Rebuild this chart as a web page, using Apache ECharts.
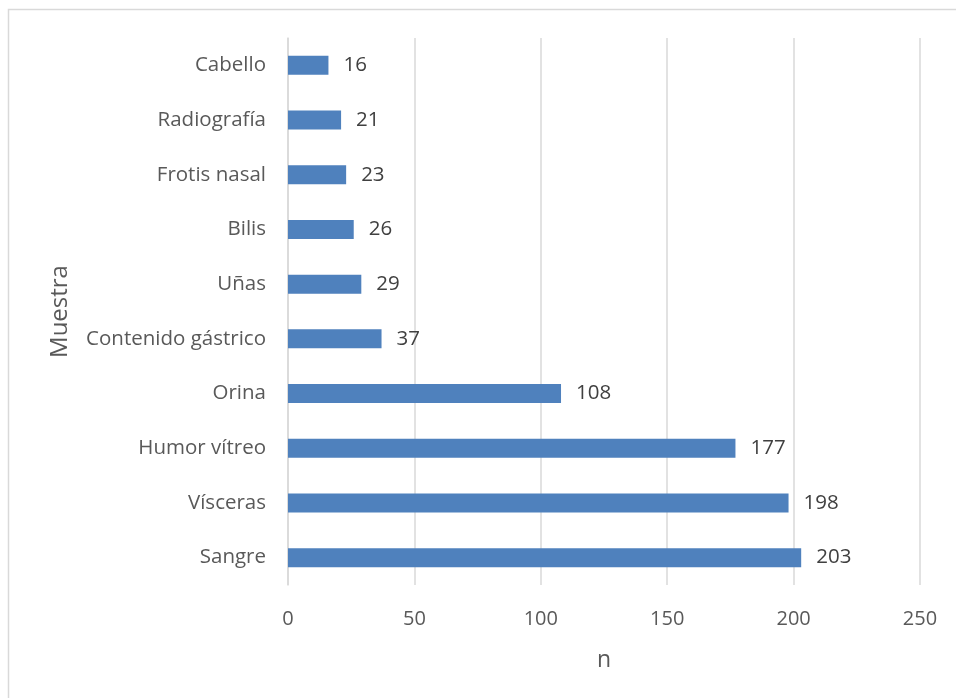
<!DOCTYPE html>
<html>
<head>
<meta charset="utf-8">
<script src="https://cdn.jsdelivr.net/npm/echarts@6/dist/echarts.min.js"></script>
<style>
  html, body { margin: 0; padding: 0; background: #ffffff; }
  #chart { width: 956px; height: 698px; }
</style>
</head>
<body>
<div id="chart"></div>
<script>
// Sample types, listed bottom to top
const categories = ['Sangre', 'Vísceras', 'Humor vítreo', 'Orina', 'Contenido gástrico', 'Uñas', 'Bilis', 'Frotis nasal', 'Radiografía', 'Cabello'];
const counts = [203, 198, 177, 108, 37, 29, 26, 23, 21, 16];
const xTicks = [0, 50, 100, 150, 200, 250];

const FONT = '"Open Sans", "Noto Sans", sans-serif';
const TEXT = '#595959';
const GRID = '#D9D9D9';

const chart = echarts.init(document.getElementById('chart'), null, { renderer: 'canvas' });
chart.setOption({
  backgroundColor: '#ffffff',
  animation: false,
  graphic: [{
    type: 'rect',
    shape: { x: 8.5, y: 9.5, width: 960, height: 700 },
    style: { fill: 'none', stroke: '#D9D9D9', lineWidth: 1.5 },
    silent: true
  }],
  grid: { left: 288, right: 36, top: 38, bottom: 113, containLabel: false },
  xAxis: {
    type: 'value',
    min: xTicks[0],
    max: xTicks[xTicks.length - 1],
    interval: 50,
    name: 'n',
    nameLocation: 'middle',
    nameGap: 64,
    nameTextStyle: { color: TEXT, fontFamily: FONT, fontSize: 23 },
    axisLine: { show: false },
    axisTick: { show: false },
    axisLabel: { color: TEXT, fontFamily: FONT, fontSize: 20, margin: 24 },
    splitLine: { show: true, lineStyle: { color: GRID, width: 1.5 } }
  },
  yAxis: {
    type: 'category',
    data: categories,
    name: 'Muestra',
    nameLocation: 'middle',
    nameGap: 216,
    nameRotate: 90,
    nameTextStyle: { color: TEXT, fontFamily: FONT, fontSize: 24 },
    axisLine: { show: true, lineStyle: { color: GRID, width: 1.5 } },
    axisTick: { show: false },
    axisLabel: { color: TEXT, fontFamily: FONT, fontSize: 20.5, margin: 22 }
  },
  series: [{
    type: 'bar',
    data: counts,
    barWidth: 19,
    itemStyle: { color: '#4F81BD' },
    label: {
      show: true,
      position: 'right',
      distance: 15,
      color: '#404040',
      fontFamily: FONT,
      fontSize: 20.5
    }
  }]
});
</script>
</body>
</html>
